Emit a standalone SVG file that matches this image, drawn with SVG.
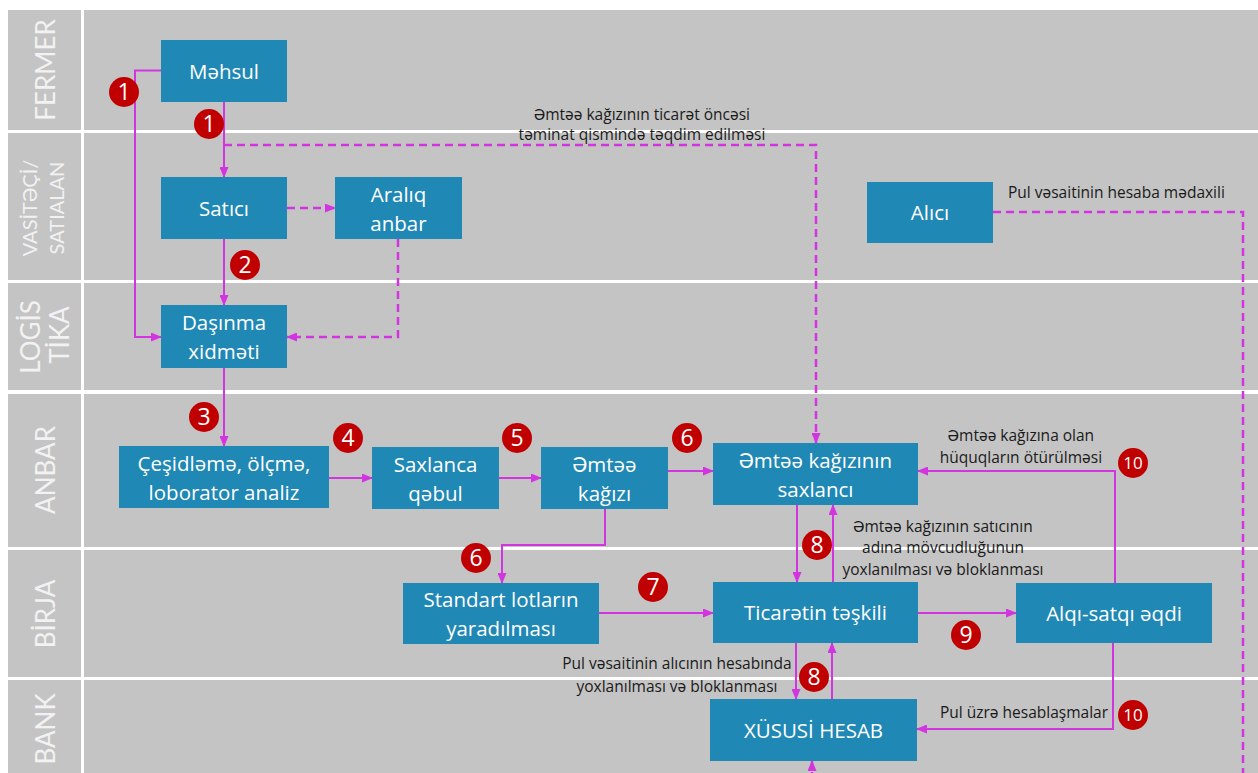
<svg xmlns="http://www.w3.org/2000/svg" width="1258" height="773" viewBox="0 0 1258 773">
<style>
.lane{fill:#c4c4c4}
.lbl{fill:#f2f2f2;font-family:Lato,"Open Sans",sans-serif;font-size:26px;text-anchor:middle}
.lbl2{fill:#f2f2f2;font-family:Lato,"Open Sans",sans-serif;font-size:20px;text-anchor:middle}
.box{fill:#1f88b5}
.bt{fill:#ffffff;font-family:"Open Sans",Lato,sans-serif;font-size:20.5px;text-anchor:middle}
.c{fill:none;stroke:#d234e0;stroke-width:2}
.d{fill:none;stroke:#d234e0;stroke-width:2.5;stroke-dasharray:8,5}
.t{fill:#1a1a1a;font-family:"Open Sans",Lato,sans-serif;font-size:15.5px;text-anchor:middle}
.bdg{fill:#c00000}
.bn{fill:#ffffff;font-family:"Open Sans",Lato,sans-serif;font-size:23px;text-anchor:middle}
.bn2{fill:#ffffff;font-family:"Open Sans",Lato,sans-serif;font-size:17px;text-anchor:middle}
</style>
<defs>
<marker id="ah" markerUnits="userSpaceOnUse" markerWidth="11" markerHeight="9" refX="10" refY="4.5" orient="auto"><path d="M0,0 L11,4.5 L0,9 z" fill="#d234e0"/></marker>
</defs>
<rect width="1258" height="773" fill="#ffffff"/>
<g id="lanes">
<rect class="lane" x="8" y="10" width="73" height="120"/><rect class="lane" x="84" y="10" width="1174" height="120"/>
<rect class="lane" x="8" y="133" width="73" height="147"/><rect class="lane" x="84" y="133" width="1174" height="147"/>
<rect class="lane" x="8" y="283" width="73" height="107"/><rect class="lane" x="84" y="283" width="1174" height="107"/>
<rect class="lane" x="8" y="394" width="73" height="153"/><rect class="lane" x="84" y="394" width="1174" height="153"/>
<rect class="lane" x="8" y="550" width="73" height="127"/><rect class="lane" x="84" y="550" width="1174" height="127"/>
<rect class="lane" x="8" y="680" width="73" height="93"/><rect class="lane" x="84" y="680" width="1174" height="93"/>
<text class="lbl" transform="translate(55,70) rotate(-90)">FERMER</text>
<text class="lbl2" transform="translate(37,208) rotate(-90)">VASİTƏÇİ/</text>
<text class="lbl2" transform="translate(64,208) rotate(-90)">SATIALAN</text>
<text class="lbl" transform="translate(40,337) rotate(-90)">LOGİS</text>
<text class="lbl" transform="translate(69,335) rotate(-90)">TİKA</text>
<text class="lbl" transform="translate(55,470) rotate(-90)">ANBAR</text>
<text class="lbl" transform="translate(55,614) rotate(-90)">BİRJA</text>
<text class="lbl" transform="translate(55,729) rotate(-90)">BANK</text>
</g>
<g id="connectors">
<path class="c" d="M161,70.5 H135 V337 H161" marker-end="url(#ah)"/>
<path class="c" d="M224,102 V177" marker-end="url(#ah)"/>
<path class="d" d="M224,145 H816 V443" marker-end="url(#ah)"/>
<path class="d" d="M287,208 H335" marker-end="url(#ah)"/>
<path class="d" d="M398,239 V337 H287" marker-end="url(#ah)"/>
<path class="c" d="M224,239 V305" marker-end="url(#ah)"/>
<path class="c" d="M224,368 V446" marker-end="url(#ah)"/>
<path class="c" d="M329,478 H372" marker-end="url(#ah)"/>
<path class="c" d="M499,478 H541" marker-end="url(#ah)"/>
<path class="c" d="M668,471 H713" marker-end="url(#ah)"/>
<path class="c" d="M605,509 V545 H502 V583" marker-end="url(#ah)"/>
<path class="c" d="M599,613 H713" marker-end="url(#ah)"/>
<path class="c" d="M797,505 V582" marker-end="url(#ah)"/>
<path class="c" d="M833,582 V505" marker-end="url(#ah)"/>
<path class="c" d="M918,613 H1016" marker-end="url(#ah)"/>
<path class="c" d="M1115,583 V471 H918" marker-end="url(#ah)"/>
<path class="c" d="M796,643 V699" marker-end="url(#ah)"/>
<path class="c" d="M832,699 V643" marker-end="url(#ah)"/>
<path class="c" d="M1113,643 V729 H917" marker-end="url(#ah)"/>
<path class="d" d="M993,212 H1243 V780"/>
<path class="d" d="M812,780 V761" marker-end="url(#ah)"/>
<text class="t" x="642" y="120">Əmtəə kağızının ticarət öncəsi</text>
<text class="t" x="642" y="140">təminat qismində təqdim edilməsi</text>
<text class="t" x="943" y="532">Əmtəə kağızının satıcının</text>
<text class="t" x="943" y="553">adına mövcudluğunun</text>
<text class="t" x="943" y="575">yoxlanılması və bloklanması</text>
<text class="t" x="1021" y="441">Əmtəə kağızına olan</text>
<text class="t" x="1021" y="463">hüquqların ötürülməsi</text>
<text class="t" x="677" y="669">Pul vəsaitinin alıcının hesabında</text>
<text class="t" x="677" y="692">yoxlanılması və bloklanması</text>
<text class="t" x="1108" y="718" style="text-anchor:end">Pul üzrə hesablaşmalar</text>
<text class="t" x="1008" y="198" style="text-anchor:start">Pul vəsaitinin hesaba mədaxili</text>
</g>
<g id="badges">
<circle class="bdg" cx="124" cy="92" r="15"/><text class="bn" x="124" y="100">1</text>
<circle class="bdg" cx="209" cy="124" r="15"/><text class="bn" x="209" y="132">1</text>
<circle class="bdg" cx="245" cy="265" r="15"/><text class="bn" x="245" y="273">2</text>
<circle class="bdg" cx="204" cy="417" r="15"/><text class="bn" x="204" y="425">3</text>
<circle class="bdg" cx="348" cy="438" r="15"/><text class="bn" x="348" y="446">4</text>
<circle class="bdg" cx="517" cy="438" r="15"/><text class="bn" x="517" y="446">5</text>
<circle class="bdg" cx="687" cy="438" r="15"/><text class="bn" x="687" y="446">6</text>
<circle class="bdg" cx="476" cy="558" r="15"/><text class="bn" x="476" y="566">6</text>
<circle class="bdg" cx="653" cy="587" r="15"/><text class="bn" x="653" y="595">7</text>
<circle class="bdg" cx="817" cy="545" r="15"/><text class="bn" x="817" y="553">8</text>
<circle class="bdg" cx="814" cy="677" r="15"/><text class="bn" x="814" y="685">8</text>
<circle class="bdg" cx="966" cy="635" r="15"/><text class="bn" x="966" y="643">9</text>
<circle class="bdg" cx="1133" cy="463" r="15"/><text class="bn2" x="1133" y="469">10</text>
<circle class="bdg" cx="1133" cy="715" r="15"/><text class="bn2" x="1133" y="721">10</text>
</g>
<g id="n-mehsul"><rect class="box" x="161" y="40" width="126" height="62"/><text class="bt" x="224" y="78.5">Məhsul</text></g>
<g id="n-satici"><rect class="box" x="161" y="177" width="126" height="62"/><text class="bt" x="224" y="215.5">Satıcı</text></g>
<g id="n-aralig"><rect class="box" x="335" y="177" width="127" height="62"/><text class="bt" x="398.5" y="202">Aralıq</text><text class="bt" x="398.5" y="231">anbar</text></g>
<g id="n-dasinma"><rect class="box" x="161" y="305" width="126" height="63"/><text class="bt" x="224" y="330">Daşınma</text><text class="bt" x="224" y="359">xidməti</text></g>
<g id="n-alici"><rect class="box" x="867" y="182" width="126" height="61"/><text class="bt" x="930" y="220">Alıcı</text></g>
<g id="n-cesidleme"><rect class="box" x="119" y="446" width="210" height="62"/><text class="bt" x="224" y="471">Çeşidləmə, ölçmə,</text><text class="bt" x="224" y="500">loborator analiz</text></g>
<g id="n-saxlanca"><rect class="box" x="372" y="447" width="127" height="62"/><text class="bt" x="435.5" y="472">Saxlanca</text><text class="bt" x="435.5" y="501">qəbul</text></g>
<g id="n-emtee"><rect class="box" x="541" y="447" width="127" height="62"/><text class="bt" x="604.5" y="472">Əmtəə</text><text class="bt" x="604.5" y="501">kağızı</text></g>
<g id="n-saxlanci"><rect class="box" x="713" y="443" width="205" height="62"/><text class="bt" x="815.5" y="468">Əmtəə kağızının</text><text class="bt" x="815.5" y="497">saxlancı</text></g>
<g id="n-standart"><rect class="box" x="403" y="583" width="196" height="61"/><text class="bt" x="501" y="607">Standart lotların</text><text class="bt" x="501" y="636">yaradılması</text></g>
<g id="n-ticaret"><rect class="box" x="713" y="582" width="205" height="61"/><text class="bt" x="815.5" y="620">Ticarətin təşkili</text></g>
<g id="n-alqi"><rect class="box" x="1016" y="583" width="196" height="60"/><text class="bt" x="1114" y="620.5">Alqı-satqı əqdi</text></g>
<g id="n-xususi"><rect class="box" x="710" y="699" width="207" height="62"/><text class="bt" x="813.5" y="737.5">XÜSUSİ HESAB</text></g>
</svg>
